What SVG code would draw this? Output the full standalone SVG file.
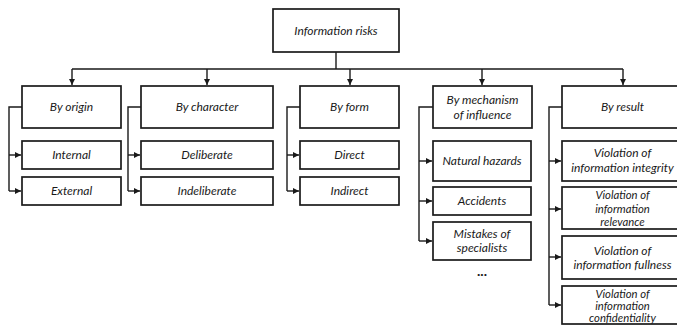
<svg xmlns="http://www.w3.org/2000/svg" width="677" height="329" viewBox="0 0 677 329">
<style>
.box{fill:#fff;stroke:#1a1a1a;stroke-width:1.7}
.ln{fill:none;stroke:#1a1a1a;stroke-width:1.4}
text{font-family:Lato,"Open Sans","Liberation Sans",sans-serif;font-style:italic;font-size:12px;fill:#1a1a1a;text-anchor:middle}
.sm{font-size:11.3px}
</style>
<defs>
<marker id="ah" markerUnits="userSpaceOnUse" markerWidth="6" markerHeight="6" viewBox="0 0 6 6" refX="6" refY="3" orient="auto">
<path d="M0,0 L6,3 L0,6 Z" fill="#1a1a1a"/>
</marker>
</defs>
<rect width="677" height="329" fill="#fff"/>
<g id="connectors">
<path class="ln" d="M336 52 V69 M72 69 H623"/>
<path class="ln" d="M72 69 V85" marker-end="url(#ah)"/>
<path class="ln" d="M207 69 V85" marker-end="url(#ah)"/>
<path class="ln" d="M350 69 V85" marker-end="url(#ah)"/>
<path class="ln" d="M482 69 V85" marker-end="url(#ah)"/>
<path class="ln" d="M623 69 V85" marker-end="url(#ah)"/>
<path class="ln" d="M22 107 H9 V191"/>
<path class="ln" d="M9 155 H21" marker-end="url(#ah)"/>
<path class="ln" d="M9 191 H21" marker-end="url(#ah)"/>
<path class="ln" d="M141 107 H128 V191"/>
<path class="ln" d="M128 155 H140" marker-end="url(#ah)"/>
<path class="ln" d="M128 191 H140" marker-end="url(#ah)"/>
<path class="ln" d="M300 107 H287 V191"/>
<path class="ln" d="M287 155 H299" marker-end="url(#ah)"/>
<path class="ln" d="M287 191 H299" marker-end="url(#ah)"/>
<path class="ln" d="M433 107 H419 V241"/>
<path class="ln" d="M419 161 H432" marker-end="url(#ah)"/>
<path class="ln" d="M419 201 H432" marker-end="url(#ah)"/>
<path class="ln" d="M419 241 H432" marker-end="url(#ah)"/>
<path class="ln" d="M562 107 H549 V305"/>
<path class="ln" d="M549 161 H561" marker-end="url(#ah)"/>
<path class="ln" d="M549 209 H561" marker-end="url(#ah)"/>
<path class="ln" d="M549 257 H561" marker-end="url(#ah)"/>
<path class="ln" d="M549 305 H561" marker-end="url(#ah)"/>
</g>
<g id="root"><rect class="box" x="273" y="9" width="126" height="43"/><text x="336" y="35">Information risks</text></g>
<g id="origin"><rect class="box" x="22" y="86" width="99" height="42"/><text x="71.5" y="111">By origin</text></g>
<g id="character"><rect class="box" x="141" y="86" width="132" height="42"/><text x="207" y="111">By character</text></g>
<g id="form"><rect class="box" x="300" y="86" width="99" height="42"/><text x="349.5" y="111">By form</text></g>
<g id="mechanism"><rect class="box" x="433" y="86" width="99" height="42"/><text x="482.5" y="104">By mechanism</text><text x="482.5" y="119">of influence</text></g>
<g id="result"><rect class="box" x="562" y="86" width="122" height="42"/><text x="622.5" y="111">By result</text></g>
<g id="internal"><rect class="box" x="22" y="141" width="99" height="28"/><text x="71.5" y="159">Internal</text></g>
<g id="external"><rect class="box" x="22" y="177" width="99" height="28"/><text x="71.5" y="195">External</text></g>
<g id="deliberate"><rect class="box" x="141" y="141" width="132" height="28"/><text x="207" y="159">Deliberate</text></g>
<g id="indeliberate"><rect class="box" x="141" y="177" width="132" height="28"/><text x="207" y="195">Indeliberate</text></g>
<g id="direct"><rect class="box" x="300" y="141" width="99" height="28"/><text x="349.5" y="159">Direct</text></g>
<g id="indirect"><rect class="box" x="300" y="177" width="99" height="28"/><text x="349.5" y="195">Indirect</text></g>
<g id="natural"><rect class="box" x="433" y="141" width="98" height="40"/><text x="482" y="165">Natural hazards</text></g>
<g id="accidents"><rect class="box" x="433" y="187" width="98" height="28"/><text x="482" y="205">Accidents</text></g>
<g id="mistakes"><rect class="box" x="433" y="222" width="98" height="38"/><text x="482" y="238">Mistakes of</text><text x="482" y="252">specialists</text></g>
<text x="482" y="276" style="font-style:normal;font-weight:bold;font-size:14px">...</text>
<g id="integrity"><rect class="box" x="562" y="141" width="122" height="40"/><text x="622.5" y="157">Violation of</text><text x="622.5" y="172">information integrity</text></g>
<g id="relevance"><rect class="box" x="562" y="187" width="122" height="42"/><text class="sm" x="622.5" y="199">Violation of</text><text class="sm" x="622.5" y="212.5">information</text><text class="sm" x="622.5" y="226">relevance</text></g>
<g id="fullness"><rect class="box" x="562" y="236" width="122" height="43"/><text x="622.5" y="255">Violation of</text><text x="622.5" y="269">information fullness</text></g>
<g id="confidentiality"><rect class="box" x="562" y="286" width="122" height="38"/><text class="sm" x="622.5" y="297.5">Violation of</text><text class="sm" x="622.5" y="309.5">information</text><text class="sm" x="622.5" y="321.5">confidentiality</text></g>
</svg>
